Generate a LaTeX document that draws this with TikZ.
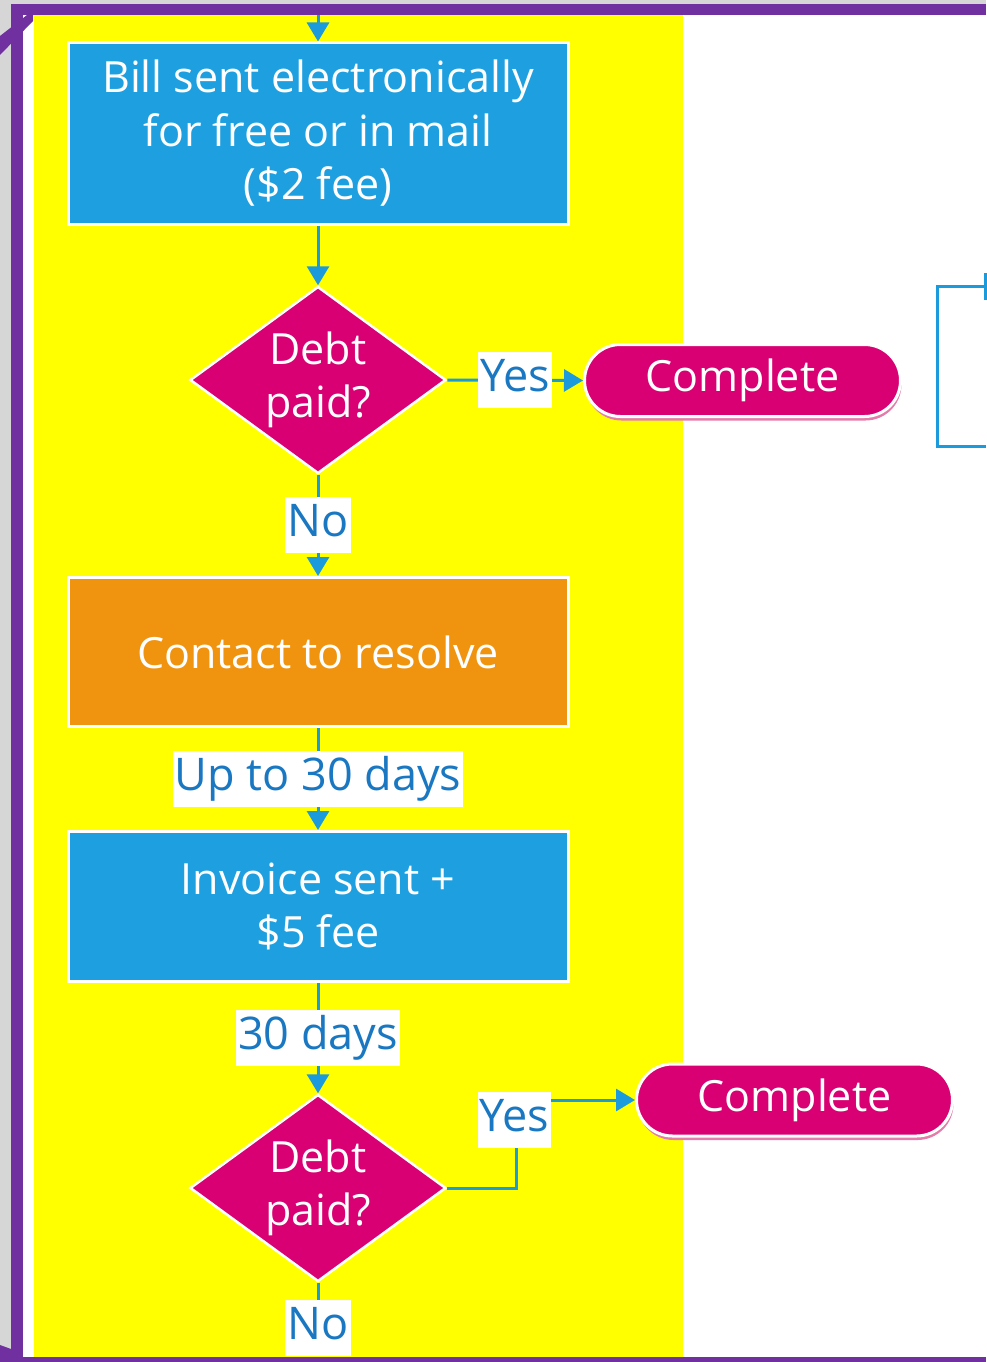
\documentclass[tikz,border=0pt]{standalone}
\usepackage{fontspec}
\setmainfont{Open Sans}
\usetikzlibrary{shapes.geometric,arrows.meta,shadows}
\definecolor{boxblue}{HTML}{1EA0E0}
\definecolor{boxorange}{HTML}{F0930F}
\definecolor{mag}{HTML}{D80073}
\definecolor{magshadow}{HTML}{E57BAA}
\definecolor{linkblue}{HTML}{1B9BDB}
\definecolor{lbltext}{HTML}{1A78C2}
\definecolor{framepurple}{HTML}{7030A0}
\definecolor{yellowbg}{HTML}{FFFF00}
\definecolor{edgegray}{HTML}{D6D6D6}
\newcommand\myfont{\fontsize{43}{53.5}\selectfont}
\newcommand\mylblfont{\fontsize{45}{54}\selectfont}
\begin{document}
\begin{tikzpicture}[x=1pt,y=-1pt,
  conn/.style={draw=linkblue,line width=3pt,-{Triangle[width=22pt,length=19pt]}},
  plain/.style={draw=linkblue,line width=3pt},
  stepbox/.style={rectangle,draw=white,line width=3pt,minimum width=500pt,text=white,align=center,font=\myfont,inner sep=0pt},
  decision/.style={diamond,fill=mag,draw=white,line width=2.5pt,minimum width=256pt,minimum height=187pt,inner sep=0pt,aspect=1.37,text=white,align=center,font=\myfont},
  endpill/.style={rectangle,rounded corners=36pt,fill=mag,draw=white,line width=3pt,minimum width=316pt,minimum height=72pt,text=white,font=\myfont,inner sep=0pt,
    drop shadow={fill=magshadow,shadow xshift=1pt,shadow yshift=-4pt,opacity=1}},
  lbl/.style={fill=white,text=lbltext,font=\mylblfont,inner xsep=2pt,inner ysep=0pt,minimum height=56pt,text height=32pt,text depth=10pt}
]
\useasboundingbox (0,0) rectangle (986,1362);
% background
\fill[white] (0,0) rectangle (986,1362);
\fill[edgegray] (0,0) rectangle (11,1362);
\fill[edgegray] (0,0) rectangle (986,4);
\fill[yellowbg] (34,15) rectangle (683,1357);

% nodes
\node[stepbox,fill=boxblue,minimum height=181pt] (b1) at (318,133.5) {Bill sent electronically\\for free or in mail\\(\$2 fee)};
\node[decision] (d1) at (318,380) {Debt\\paid?};
\node[endpill] (c1) at (742.5,380.5) {Complete};
\node[stepbox,fill=boxorange,minimum height=149pt] (b2) at (318,652) {Contact to resolve};
\node[stepbox,fill=boxblue,minimum height=150pt] (b3) at (318,906.5) {Invoice sent +\\\$5 fee};
\node[decision] (d2) at (318,1188) {Debt\\paid?};
\node[endpill] (c2) at (794.5,1100) {Complete};

% connectors
\coordinate (top) at (318,15);
\draw[conn] (top) -- (b1.north);
\draw[conn] (b1.south) -- (d1.north);
\draw[conn] (d1.east) -- node[lbl] (yes1) {Yes} (c1.west);
\draw[conn] (d1.south) -- node[lbl] (no1) {No} (b2.north);
\draw[conn] (b2.south) -- node[lbl] (up30) {Up to 30 days} (b3.north);
\draw[conn] (b3.south) -- node[lbl] (d30) {30 days} (d2.north);
\draw[conn] (d2.east) -- ++(69,0) coordinate (yesbend) |- (c2.west);
\node[lbl] (yes2) at (514.5,1120) {Yes};
\coordinate (bottomend) at (318,1356);
\draw[plain] (d2.south) -- (bottomend);
\node[lbl] (no2) at (318,1328) {No};

% partial connector at right edge
\coordinate (br1) at (986,286);
\coordinate (br2) at (986,446);
\draw[plain] (br1) -- ++(-49,0) |- (br2);
\coordinate (br0) at (985,273);
\coordinate (br0b) at (985,300);
\draw[plain] (br0) -- (br0b);

% purple frame
\fill[framepurple] (11,4) rectangle (986,15);
\fill[framepurple] (11,4) rectangle (23,1357);
\fill[framepurple] (0,1357) rectangle (986,1362);
\fill[framepurple] (27,15) -- (33,15) -- (33,21) -- (0,55) -- (0,36) -- cycle;
\fill[framepurple] (0,1345) -- (11,1349) -- (11,1357) -- (0,1357) -- cycle;
\end{tikzpicture}
\end{document}
